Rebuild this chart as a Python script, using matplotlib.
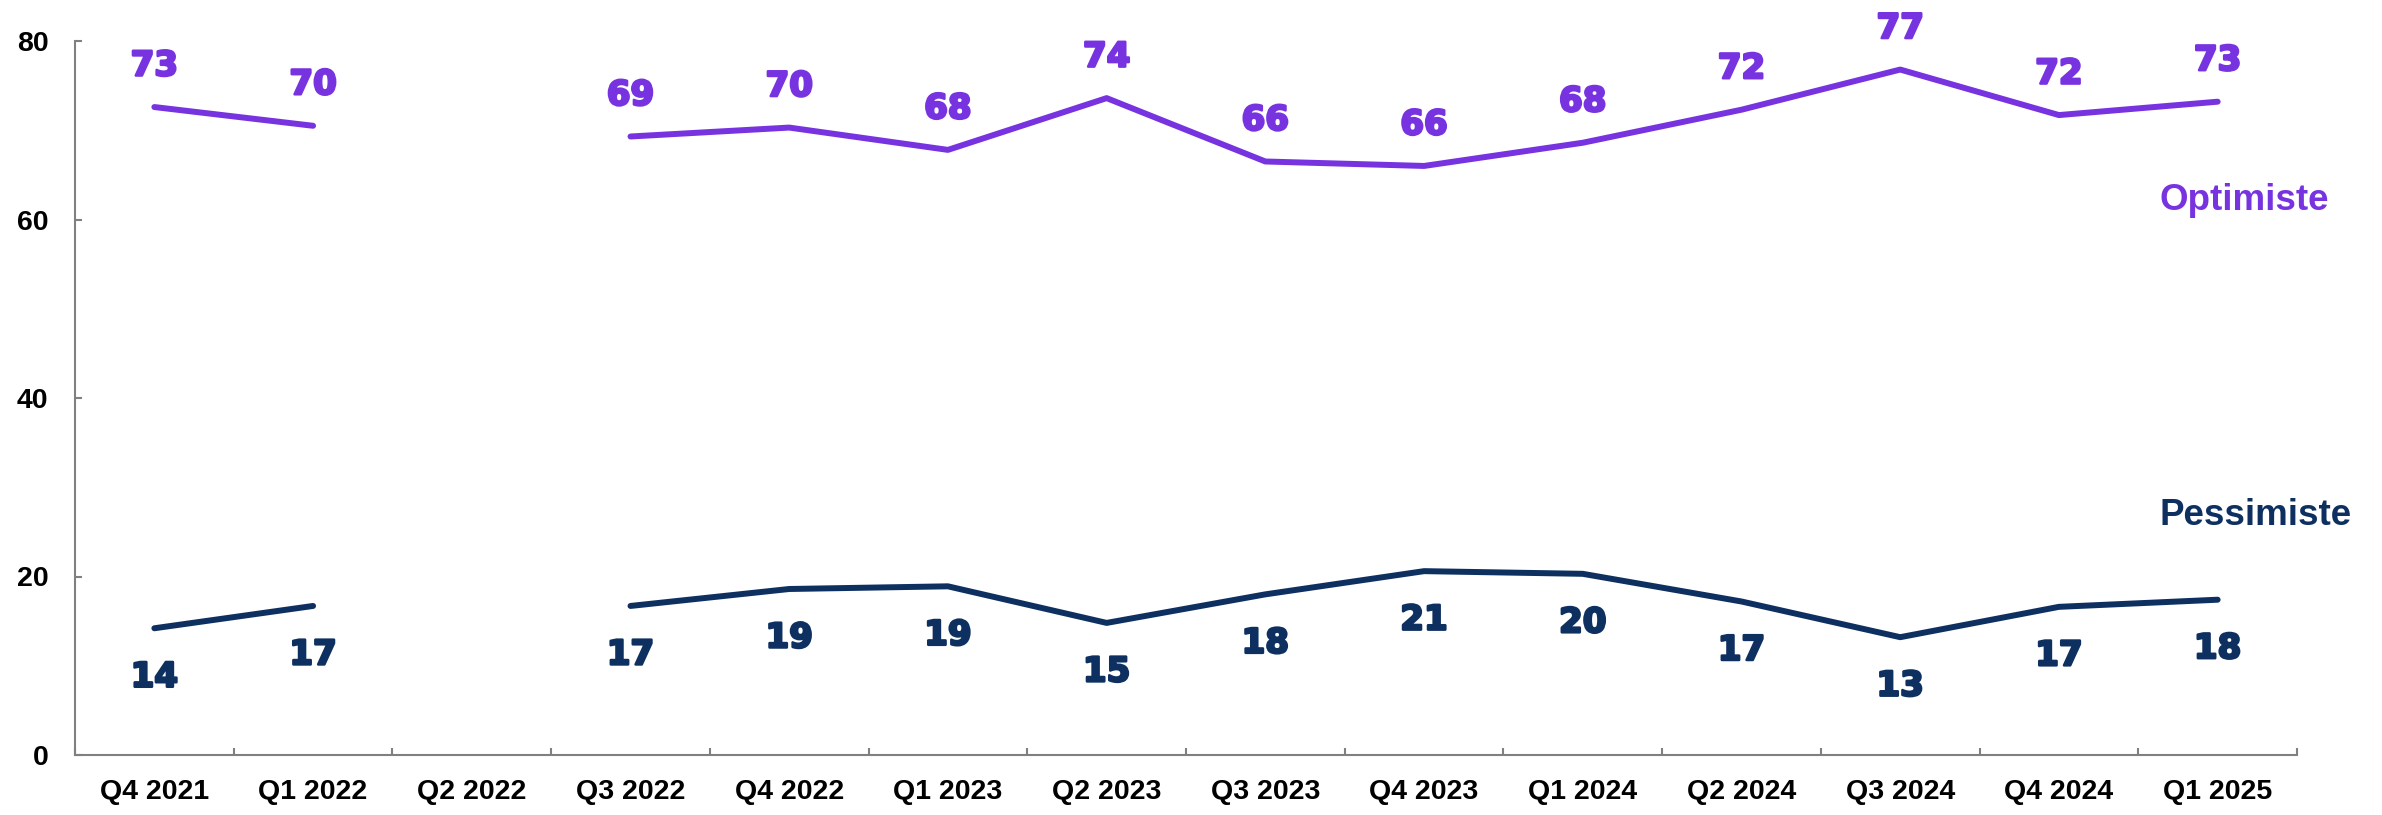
import numpy as np
import matplotlib.pyplot as plt
import matplotlib.patheffects as pe

quarters = ["Q4 2021", "Q1 2022", "Q2 2022", "Q3 2022", "Q4 2022", "Q1 2023", "Q2 2023",
            "Q3 2023", "Q4 2023", "Q1 2024", "Q2 2024", "Q3 2024", "Q4 2024", "Q1 2025"]
optimiste = [72.6, 70.5, np.nan, 69.3, 70.3, 67.8, 73.6, 66.5, 66.0, 68.6, 72.3, 76.8, 71.7, 73.2]
pessimiste = [14.2, 16.7, np.nan, 16.7, 18.6, 18.9, 14.8, 18.0, 20.6, 20.3, 17.2, 13.2, 16.6, 17.4]
optimiste_labels = [73, 70, None, 69, 70, 68, 74, 66, 66, 68, 72, 77, 72, 73]
pessimiste_labels = [14, 17, None, 17, 19, 19, 15, 18, 21, 20, 17, 13, 17, 18]

PURPLE = "#7833E0"
NAVY = "#0E3060"
GREY = "#808080"

plt.rcParams['font.family'] = ['Liberation Sans', 'DejaVu Sans']

fig = plt.figure(figsize=(23.82, 8.15), dpi=100)
ax = fig.add_axes([75 / 2382, 60 / 815, 2222 / 2382, 714 / 815])

x = np.arange(len(quarters))
ax.plot(x, optimiste, color=PURPLE, lw=4.3, solid_capstyle='round')
ax.plot(x, pessimiste, color=NAVY, lw=4.3, solid_capstyle='round')

# value labels, heavy digits (closest thing to Arial Black here)
def heavy(c):
    return [pe.withStroke(linewidth=1.8, foreground=c)]

for i, (v, lab) in enumerate(zip(optimiste, optimiste_labels)):
    if lab is None:
        continue
    ax.annotate(str(lab), (i, v), xytext=(0, 41), textcoords='offset pixels',
                ha='center', va='center', fontsize=24.5, fontweight='bold',
                family='DejaVu Sans', color=PURPLE, path_effects=heavy(PURPLE))
for i, (v, lab) in enumerate(zip(pessimiste, pessimiste_labels)):
    if lab is None:
        continue
    ax.annotate(str(lab), (i, v), xytext=(0, -49), textcoords='offset pixels',
                ha='center', va='center', fontsize=24.5, fontweight='bold',
                family='DejaVu Sans', color=NAVY, path_effects=heavy(NAVY))

ax.text(0.938, 0.777, "Optimiste", transform=ax.transAxes, ha='left', va='center',
        fontsize=26.5, fontweight='bold', color=PURPLE, clip_on=False)
ax.text(0.938, 0.336, "Pessimiste", transform=ax.transAxes, ha='left', va='center',
        fontsize=26.5, fontweight='bold', color=NAVY, clip_on=False)

ax.set_xlim(-0.5, len(quarters) - 0.5)
ax.set_ylim(0, 80)
ax.set_yticks([0, 20, 40, 60, 80])

# category labels centred, tick marks on the boundaries
ax.set_xticks(x)
ax.set_xticklabels(quarters, fontsize=20.5, fontweight='bold')
ax.set_xticks(np.arange(-0.5, len(quarters)), minor=True)
ax.tick_params(axis='x', which='major', length=0, pad=17)
ax.tick_params(axis='x', which='minor', direction='in', length=5, width=1.5, color=GREY)
ax.tick_params(axis='y', direction='in', length=5, width=1.5, color=GREY,
               labelsize=20.5, pad=19)
for t in ax.get_yticklabels():
    t.set_fontweight('bold')

for s in ['top', 'right']:
    ax.spines[s].set_visible(False)
for s in ['left', 'bottom']:
    ax.spines[s].set_color(GREY)
    ax.spines[s].set_linewidth(1.5)

fig.savefig("out.png", dpi=100)
